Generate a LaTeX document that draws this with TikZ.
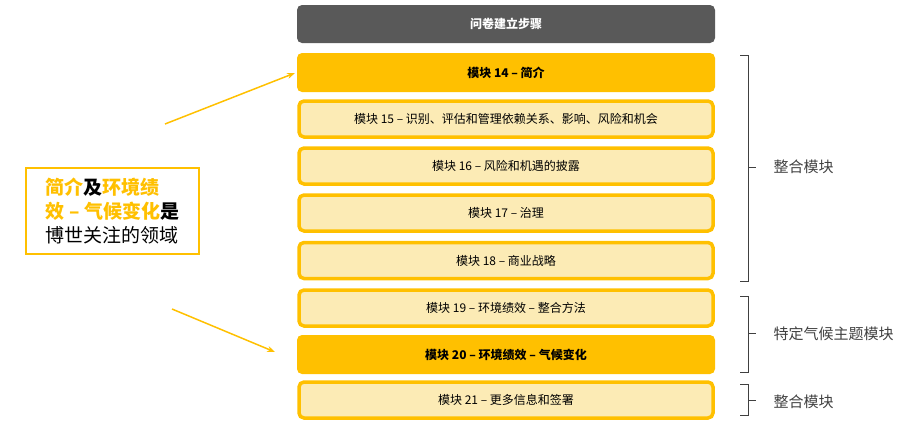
\documentclass[tikz,border=0pt]{standalone}
\usepackage{fontspec}
\setmainfont{Noto Sans CJK SC}
\usetikzlibrary{arrows.meta}
\definecolor{org}{HTML}{FFC000}
\definecolor{lt}{HTML}{FCEBB5}
\definecolor{hd}{HTML}{595959}
\definecolor{gr}{HTML}{404040}
\tikzset{
 mod/.style={draw=org,line width=3.5pt,fill=lt,rounded corners=5pt,minimum width=414pt,minimum height=36pt,font=\fontsize{12}{14}\selectfont,inner sep=0pt},
 modb/.style={fill=org,rounded corners=5pt,minimum width=418pt,minimum height=39pt,font=\bfseries\fontsize{12}{14}\selectfont,inner sep=0pt},
 brk/.style={draw=gr,line width=0.8pt},
 lab/.style={font=\fontsize{15}{18}\selectfont,text=gr,anchor=west},
 arr/.style={draw=org,line width=1.5pt,-{Stealth[length=8pt,width=6pt]}}
}
\begin{document}
\begin{tikzpicture}[x=1pt,y=-1pt]
\useasboundingbox (0,0) rectangle (924,434);
\node[fill=hd,rounded corners=5pt,minimum width=418pt,minimum height=38pt,text=white,font=\bfseries\fontsize{12}{14}\selectfont] (h) at (506,24) {问卷建立步骤};
\node[modb] (m14) at (506,72.5) {模块 14 – 简介};
\node[mod] (m15) at (506,119) {模块 15 – 识别、评估和管理依赖关系、影响、风险和机会};
\node[mod] (m16) at (506,166) {模块 16 – 风险和机遇的披露};
\node[mod] (m17) at (506,213) {模块 17 – 治理};
\node[mod] (m18) at (506,260.5) {模块 18 – 商业战略};
\node[mod] (m19) at (506,308) {模块 19 – 环境绩效 – 整合方法};
\node[modb] (m20) at (506,354.5) {模块 20 – 环境绩效 – 气候变化};
\node[mod] (m21) at (506,400) {模块 21 – 更多信息和签署};
\draw[brk] (740,55) -- (748,55) -- (748,281) -- (740,281) (748,167) -- (756,167);
\draw[brk] (740,296) -- (748,296) -- (748,372) -- (740,372) (748,333) -- (756,333);
\draw[brk] (740,384) -- (748,384) -- (748,415) -- (740,415) (748,400) -- (756,400);
\node[lab] (l1) at (770,167) {整合模块};
\node[lab] (l2) at (770,334) {特定气候主题模块};
\node[lab] (l3) at (770,402) {整合模块};
\node[draw=org,line width=2pt,fill=white,align=left,anchor=north west,minimum width=173pt,minimum height=86pt,inner sep=6pt,font=\bfseries\fontsize{19}{24}\selectfont] (L) at (25,167) {\textcolor{org}{简介}及\textcolor{org}{环境绩}\\\textcolor{org}{效 – 气候变化}是\\\mdseries 博世关注的领域};
\coordinate (a1) at (165,124);
\coordinate (a2) at (172,309);
\coordinate (t1) at (295,73);
\coordinate (t2) at (275,352);
\draw[arr] (a1) -- (t1);
\draw[arr] (a2) -- (t2);
\end{tikzpicture}
\end{document}
